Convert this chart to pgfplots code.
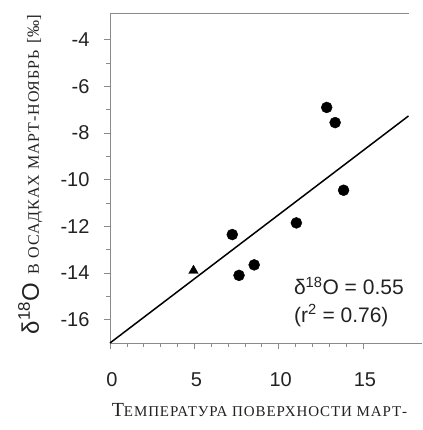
\documentclass[border=0pt]{standalone}
\usepackage{pgfplots}
\pgfplotsset{compat=1.18}
\usepackage{fontspec}
\setmainfont{Liberation Sans}
\newfontfamily\cyrserif[LetterSpace=6]{Liberation Serif}
\definecolor{axgray}{HTML}{8A8A8A}
\definecolor{txt}{HTML}{222222}
\begin{document}
\begin{tikzpicture}
\begin{axis}[
  at={(0,0)}, anchor=south west,
  scale only axis, width=312pt, height=330pt,
  xmin=0, xmax=18.5, ymin=-17, ymax=-2.85,
  axis x line=bottom, axis y line=left,
  axis line style={axgray, line width=0.9pt, -},
  xtick={0,5,10,15}, minor x tick num=4,
  ytick={-16,-14,...,-4}, minor y tick num=1,
  tick align=outside, tick style={axgray, line width=0.7pt},
  major tick length=6pt, minor tick length=4pt,
  x tick label style={font=\fontsize{20}{20}\selectfont, text=txt, yshift=-20pt, xshift=2pt},
  y tick label style={font=\fontsize{20}{20}\selectfont, text=txt, xshift=-11pt},
  /pgf/number format/assume math mode=true,
  xlabel={{\cyrserif\fontsize{20}{20}\selectfont Т\fontsize{15}{15}\selectfont ЕМПЕРАТУРА ПОВЕРХНОСТИ МАРТ-}},
  xlabel style={at={(axis description cs:0.005,0)}, anchor=west, yshift=-67pt, text=txt, inner sep=0pt},
  ylabel={{\fontsize{24}{24}\selectfont δ\textsuperscript{18}O}\hspace{9pt}{\cyrserif\fontsize{16}{16}\selectfont В ОСАДКАХ МАРТ-НОЯБРЬ}\hspace{7pt}{\fontspec{Liberation Serif}\fontsize{17}{17}\selectfont [‰]}},
  ylabel style={at={(axis description cs:-0.256,0.51)}, anchor=center, text=txt, inner sep=0pt},
  clip=false,
]
\addplot[axgray, line width=0.9pt] coordinates {(0,-2.85) (17.7,-2.85)};
\addplot[black, line width=1.5pt] coordinates {(0,-17) (17.7,-7.265)};
\addplot[only marks, mark=*, mark size=5.5pt, black] coordinates {
  (12.85,-6.9) (13.35,-7.55) (13.85,-10.45) (11.05,-11.85) (7.25,-12.35) (8.55,-13.65) (7.65,-14.1)
};
\addplot[only marks, mark=triangle*, mark size=5.5pt, black] coordinates {(4.95,-13.9)};
\node[anchor=base west, inner sep=0pt, text=txt, font=\fontsize{21}{21}\selectfont] at (axis cs:10.9,-14.93) {δ\textsuperscript{18}O = 0.55};
\node[anchor=base west, inner sep=0pt, text=txt, font=\fontsize{21}{21}\selectfont] at (axis cs:10.9,-16.1) {(r\textsuperscript{2} = 0.76)};
\end{axis}
\pgfresetboundingbox
\path (-110pt,-87pt) rectangle (312pt,343pt);
\end{tikzpicture}
\end{document}
